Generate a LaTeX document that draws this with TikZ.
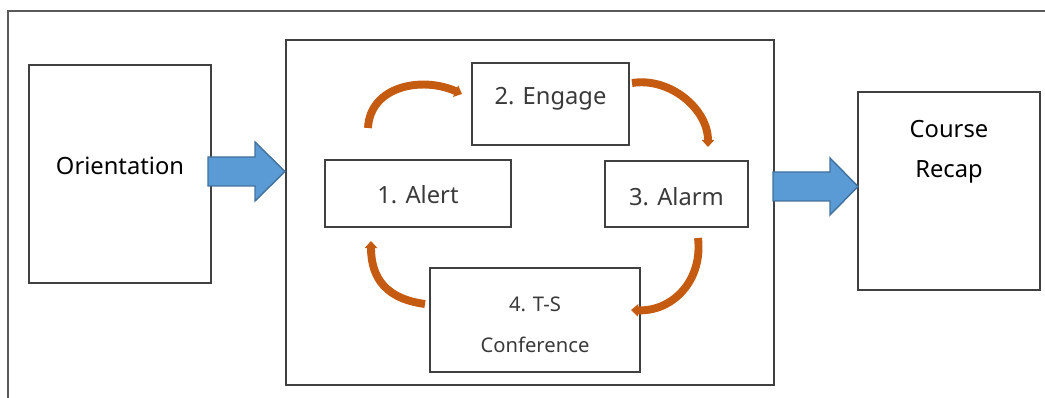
\documentclass[tikz,border=0pt]{standalone}
\usepackage{fontspec}
\setmainfont{Noto Sans}
\usetikzlibrary{arrows.meta,positioning}
\definecolor{boxline}{HTML}{404040}
\definecolor{framegray}{HTML}{5A5A5A}
\definecolor{cycorange}{HTML}{C55A11}
\definecolor{arrowblue}{HTML}{5B9BD5}
\definecolor{arrowedge}{HTML}{41719C}
\definecolor{labelgray}{HTML}{3A3A3A}

\begin{document}
\begin{tikzpicture}[
    x=0.02cm, y=-0.02cm,
    box/.style={rectangle, draw=boxline, line width=0.8pt, fill=white, inner sep=0pt},
    tag/.style={font=\fontsize{13.5}{23}\selectfont, text=labelgray, align=center},
    smalltag/.style={font=\fontsize{11.5}{23}\selectfont, text=labelgray, align=center},
    bigarrow/.style={draw=arrowedge, line width=0.8pt, fill=arrowblue},
    cyc/.style={draw=cycorange, line width=4.5pt, -{Triangle[width=7pt,length=4pt]}}
]
\useasboundingbox (0,0) rectangle (1045,398);

% Outer frame (runs off the right and bottom edge)
\draw[framegray, line width=0.8pt] (1045,11) -- (8,11) -- (8,398);

% Course stages
\node[box, minimum width=3.64cm, minimum height=4.36cm,
      label={[tag, text=black, yshift=4.5pt]center:Orientation}] (orient) at (120,174) {};
\node[box, minimum width=9.76cm, minimum height=6.9cm] (cycle) at (530,212.5) {};
\node[box, minimum width=3.64cm, minimum height=3.96cm,
      label={[tag, text=black, yshift=22.5pt]center:Course\\Recap}] (recap) at (949,191) {};

% Four steps inside the cycle
\node[box, minimum width=3.14cm, minimum height=1.64cm,
      label={[tag, yshift=3pt]center:2. Engage}] (engage) at (550.5,104) {};
\node[box, minimum width=3.72cm, minimum height=1.34cm,
      label={[tag, yshift=-0.8pt]center:1. Alert}] (alert) at (418,193.5) {};
\node[box, minimum width=2.86cm, minimum height=1.32cm,
      label={[tag, yshift=-1.7pt]center:3. Alarm}] (alarm) at (676.5,194) {};
\node[box, minimum width=4.2cm, minimum height=2.08cm,
      label={[smalltag, yshift=-2.8pt]center:4. T-S\\Conference}] (conf) at (535,320) {};

% Ends of the curved arrows
\coordinate (alertup) at (368,128);
\coordinate (engagein) at (462,94);
\coordinate (engageout) at (632,83);
\coordinate (alarmin) at (708,147);
\coordinate (alarmout) at (698,238);
\coordinate (confin) at (631,310);
\coordinate (confout) at (425,304);
\coordinate (alertin) at (371,241);

% Cycle arrows
\draw[cyc] (alertup) .. controls +(2,-42) and +(-40,-18) .. (engagein);
\draw[cyc] (engageout) .. controls +(38,-6) and +(0,-38) .. (alarmin);
\draw[cyc] (alarmout) .. controls +(5,42) and +(42,2) .. (confin);
\draw[cyc] (confout) .. controls +(-38,-5) and +(0,38) .. (alertin);

% Block arrows between stages
\draw[bigarrow] (208,157) -- (255,157) -- (255,142) -- (285,171.5) -- (255,201) -- (255,186) -- (208,186) -- cycle;
\draw[bigarrow] (773,172) -- (830,172) -- (830,158) -- (858,186.5) -- (830,215) -- (830,201) -- (773,201) -- cycle;

\end{tikzpicture}
\end{document}
